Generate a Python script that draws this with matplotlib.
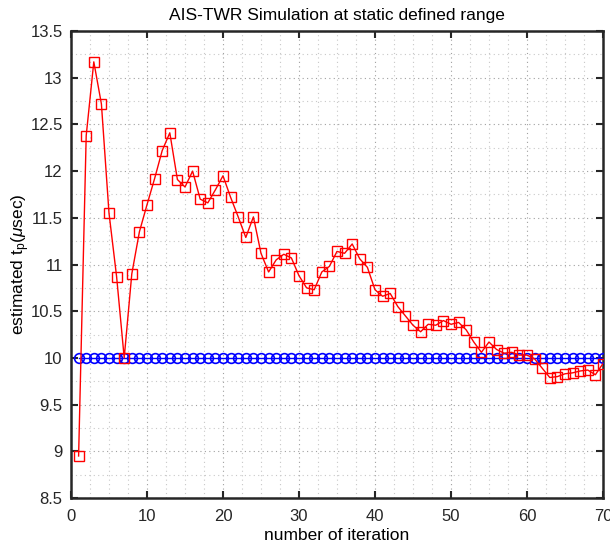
import numpy as np
import matplotlib
matplotlib.use("Agg")
import matplotlib.pyplot as plt
from matplotlib.ticker import MultipleLocator

plt.rcParams['font.family'] = ['Liberation Sans', 'DejaVu Sans']
plt.rcParams['mathtext.fontset'] = 'custom'
plt.rcParams['mathtext.rm'] = 'Liberation Sans'
plt.rcParams['mathtext.it'] = 'Liberation Sans:italic'

iterations = list(range(1, 71))

estimated = [
    8.95, 12.38, 13.17, 12.72, 11.55, 10.87, 10.00, 10.90, 11.35, 11.64,
    11.92, 12.22, 12.41, 11.91, 11.83, 12.00, 11.70, 11.66, 11.80, 11.95,
    11.72, 11.51, 11.29, 11.51, 11.12, 10.92, 11.05, 11.11, 11.07, 10.88,
    10.75, 10.73, 10.92, 10.98, 11.14, 11.12, 11.22, 11.06, 10.97, 10.73,
    10.66, 10.69, 10.55, 10.45, 10.35, 10.28, 10.36, 10.35, 10.40, 10.36,
    10.38, 10.30, 10.17, 10.06, 10.17, 10.09, 10.05, 10.06, 10.03, 10.03,
    9.99, 9.89, 9.79, 9.80, 9.83, 9.84, 9.86, 9.87, 9.82, 9.94,
]

true_value = [10.0] * 70

fig = plt.figure(figsize=(6.1, 5.55), dpi=100)
ax = fig.add_axes([0.1164, 0.1027, 0.8721, 0.8414])

ax.plot(iterations, true_value, 'o-', color='blue', mfc='none', mew=1.2,
        markersize=7, lw=1, zorder=3)
ax.plot(iterations, estimated, 's-', color='red', mfc='none', mew=1.0,
        markersize=6.5, lw=1.0, zorder=4)

ax.set_xlim(0, 70)
ax.set_ylim(8.5, 13.5)
ax.xaxis.set_major_locator(MultipleLocator(10))
ax.xaxis.set_minor_locator(MultipleLocator(2.5))
ax.yaxis.set_major_locator(MultipleLocator(0.5))
ax.yaxis.set_minor_locator(MultipleLocator(0.25))
ax.set_yticklabels([('%g' % v) for v in ax.get_yticks()])

ax.grid(True, which='major', ls=(0, (1, 3)), color='#a0a0a0', lw=0.8)
ax.grid(True, which='minor', ls=(0, (1, 3)), color='#c8c8c8', lw=0.8)
ax.set_axisbelow(True)

ax.tick_params(which='both', direction='in', top=True, right=True,
               labelsize=12, colors='#262626')
ax.tick_params(axis='x', which='major', pad=8)
ax.tick_params(axis='y', which='major', pad=6)
ax.tick_params(which='major', length=5, width=1.5)
ax.tick_params(which='minor', length=0)
for sp in ax.spines.values():
    sp.set_linewidth(1.8)
    sp.set_color('#262626')

ax.set_title('AIS-TWR Simulation at static defined range', fontsize=12.5, pad=8)
ax.set_xlabel('number of iteration', fontsize=12.5, labelpad=3)
ax.set_ylabel(r'estimated t$_\mathrm{p}$($\mathit{\mu}$sec)', fontsize=12.5, labelpad=-1)

fig.savefig('out.png', dpi=100)
